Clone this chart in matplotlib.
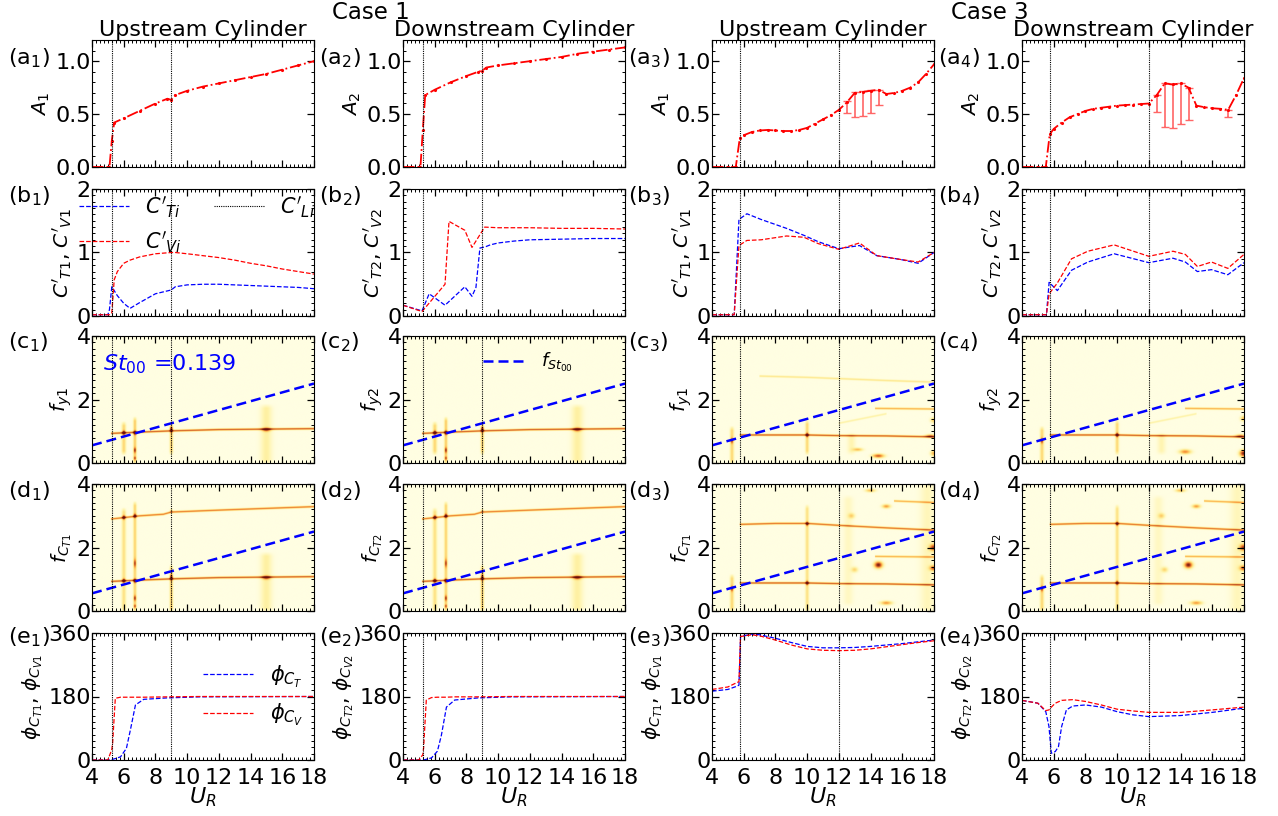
import numpy as np
import matplotlib
matplotlib.use('Agg')
import matplotlib.pyplot as plt
from matplotlib.ticker import MultipleLocator, AutoMinorLocator
from matplotlib.colors import LinearSegmentedColormap

plt.rcParams['font.size'] = 15
plt.rcParams['mathtext.fontset'] = 'dejavusans'

# ---------------- data ----------------
st00 = 0.139
ur_st = np.array([4.0, 18.0])
vl_case1 = [5.25, 9.0]
vl_case3 = [5.75, 12.0]

# row a : amplitudes
ur_a_c1 = [4.0, 4.5, 5.0, 5.1, 5.25, 5.4, 6, 7, 8, 8.75, 9.0, 9.25, 10, 11, 12, 13, 14, 15, 16, 17, 18]
a1_c1 = [0, 0, 0, 0, 0.25, 0.42, 0.46, 0.53, 0.60, 0.645, 0.635, 0.68, 0.72, 0.76, 0.79, 0.82, 0.85, 0.88, 0.92, 0.96, 1.0]
a2_c1 = [0, 0, 0, 0, 0.35, 0.68, 0.73, 0.80, 0.86, 0.90, 0.91, 0.94, 0.96, 0.98, 1.0, 1.02, 1.04, 1.07, 1.09, 1.11, 1.13]

ur_a1_c3 = [4, 4.5, 5, 5.5, 5.75, 6, 6.5, 7, 7.5, 8, 8.5, 9, 9.5, 10, 10.5, 11, 11.5, 12, 12.5, 13, 13.5, 14, 14.5,
            15, 15.5, 16, 16.5, 17, 17.5, 18]
a1_c3 = [0, 0, 0, 0, 0.27, 0.30, 0.33, 0.345, 0.35, 0.345, 0.34, 0.34, 0.35, 0.37, 0.41, 0.45, 0.49, 0.54, 0.61, 0.70,
         0.71, 0.72, 0.73, 0.69, 0.70, 0.72, 0.75, 0.80, 0.88, 0.97]
err_ur_a1_c3 = [12.5, 13, 13.5, 14, 14.5]
err_top_a1_c3 = [0.62, 0.705, 0.715, 0.73, 0.73]
err_low_a1_c3 = [0.51, 0.47, 0.48, 0.51, 0.59]

ur_a2_c3 = [4, 4.5, 5, 5.5, 5.75, 6, 6.5, 7, 7.5, 8, 8.5, 9, 9.5, 10, 10.5, 11, 11.5, 12, 12.5, 13, 13.5, 14, 14.5,
            15, 15.5, 16, 16.5, 17, 17.5, 18]
a2_c3 = [0, 0, 0, 0, 0.31, 0.36, 0.42, 0.47, 0.50, 0.53, 0.55, 0.56, 0.57, 0.58, 0.585, 0.59, 0.595, 0.60, 0.68,
         0.79, 0.78, 0.79, 0.75, 0.58, 0.565, 0.555, 0.55, 0.54, 0.68, 0.84]
err_ur_a2_c3 = [12.5, 13, 13.5, 14, 14.5, 17]
err_top_a2_c3 = [0.68, 0.79, 0.78, 0.79, 0.746, 0.54]
err_low_a2_c3 = [0.52, 0.38, 0.365, 0.41, 0.44, 0.47]

# row b : fluctuating force coefficients
ur_b1 = [4, 4.5, 5.0, 5.1, 5.25, 5.4, 5.6, 6.0, 6.4, 7, 8, 9, 9.25, 10, 11, 12, 13, 14, 15, 16, 17, 18]
ct1_c1 = [0.02, 0.02, 0.02, 0.1, 0.46, 0.40, 0.32, 0.2, 0.12, 0.21, 0.35, 0.41, 0.46, 0.49, 0.50, 0.50, 0.49, 0.48,
          0.47, 0.46, 0.45, 0.43]
cv1_c1 = [0.02, 0.02, 0.02, 0.02, 0.05, 0.57, 0.70, 0.83, 0.88, 0.93, 0.98, 1.0, 1.0, 0.98, 0.95, 0.92, 0.88, 0.83,
          0.79, 0.74, 0.70, 0.66]

ur_b2_t = [4, 5.2, 5.65, 6.65, 7.9, 8.35, 8.6, 8.85, 9.2, 9.5, 10, 11, 12, 14, 16, 18]
ct2_c1 = [0.17, 0.08, 0.35, 0.17, 0.46, 0.31, 0.45, 1.07, 1.09, 1.12, 1.15, 1.18, 1.20, 1.21, 1.22, 1.22]
ur_b2_v = [4, 5.2, 6.65, 6.9, 7.9, 8.35, 9.15, 10, 12, 14, 16, 18]
cv2_c1 = [0.17, 0.07, 0.5, 1.49, 1.35, 1.08, 1.40, 1.39, 1.39, 1.38, 1.38, 1.37]

ur_b3 = [4, 5, 5.4, 5.7, 6.2, 7.1, 8.7, 9.8, 10.7, 12, 13.3, 14.4, 15.9, 17, 18]
ct1_c3 = [0.02, 0.02, 0.02, 1.52, 1.61, 1.52, 1.38, 1.27, 1.17, 1.06, 1.11, 0.95, 0.89, 0.83, 1.0]
cv1_c3 = [0.02, 0.02, 0.02, 1.11, 1.19, 1.20, 1.26, 1.24, 1.14, 1.05, 1.15, 0.95, 0.89, 0.85, 1.0]

ur_b4 = [4, 5, 5.54, 5.71, 6.23, 7.12, 8.15, 9.81, 12.0, 13.52, 14.3, 15.06, 15.95, 16.98, 18]
ct2_c3 = [0.02, 0.02, 0.02, 0.53, 0.40, 0.72, 0.85, 0.98, 0.84, 0.91, 0.85, 0.70, 0.73, 0.65, 0.84]
cv2_c3 = [0.02, 0.02, 0.02, 0.35, 0.52, 0.90, 1.02, 1.12, 0.94, 1.02, 0.97, 0.78, 0.85, 0.75, 0.97]

# row e : phase angles
ur_e12 = [4, 5.0, 5.25, 5.3, 5.47, 5.8, 6.17, 6.42, 6.74, 7.26, 8.74, 10.8, 18]
phit_e1 = [0, 0, 0, 2, 4, 9, 33, 85, 156, 172, 176, 179, 180]
phiv_e1 = [0, 0, 30, 47, 175, 178, 178, 178, 178, 178, 179, 180, 180]
phit_e2 = [0, 0, 0, 0, 2, 6, 25, 70, 150, 170, 176, 179, 180]
phiv_e2 = [0, 0, 15, 35, 170, 177, 178, 178, 178, 179, 179, 180, 180]

ur_e3 = [4, 5, 5.5, 5.7, 5.8, 6.5, 7, 8, 9, 10, 11, 12, 13, 14, 15, 16, 17, 18]
phit_e3 = [195, 200, 208, 212, 350, 357, 355, 345, 333, 322, 318, 318, 319, 322, 326, 330, 335, 340]
phiv_e3 = [200, 207, 218, 222, 350, 355, 352, 340, 326, 315, 311, 310, 311, 315, 321, 327, 333, 338]

ur_e4 = [4, 5, 5.5, 5.7, 5.85, 6.1, 6.3, 6.5, 6.8, 7.2, 8, 9, 10, 11, 12, 14, 16, 18]
phit_e4 = [169, 161, 137, 95, 19, 24, 38, 95, 142, 153, 156, 150, 137, 128, 123, 126, 135, 147]
phiv_e4 = [169, 161, 140, 142, 150, 161, 165, 169, 170, 171, 166, 156, 144, 139, 135, 135, 142, 150]

# rows c, d : spectral peaks  (ridges: U points, f points, strength)
ridge_fund_c1 = ([5.2, 7, 9, 12, 18], [0.93, 0.97, 1.01, 1.05, 1.08], 0.72)
ridge_harm_c1 = ([5.2, 7, 8.5, 9.0, 12, 18], [2.9, 3.0, 3.05, 3.12, 3.18, 3.29], 0.62)
ridge_fund_c3 = ([5.75, 8, 10, 12, 15, 18], [0.88, 0.88, 0.88, 0.86, 0.85, 0.82], 0.72)
ridge_harm_c3 = ([5.75, 8, 10, 12, 15, 18], [2.73, 2.76, 2.76, 2.70, 2.62, 2.55], 0.65)
ridge_faint_c3 = ([7, 10, 12, 15, 18], [2.74, 2.70, 2.66, 2.60, 2.55], 0.22)
ridge_17_c3 = ([14.3, 18], [1.72, 1.70], 0.45)
ridge_rise_c3 = ([12, 15], [1.25, 1.55], 0.15)
ridge_34_c3 = ([15.5, 18], [3.47, 3.42], 0.45)

# streaks: (U, f_low, f_high, strength, half width in U)
streaks_c1 = [(6.0, 0.3, 1.25, 0.3, 0.13), (6.7, 0.0, 1.4, 0.35, 0.1), (9.0, 0.3, 1.2, 0.35, 0.1),
              (15.0, 0.0, 1.8, 0.16, 0.35)]
streaks_d1 = [(6.0, 0.0, 3.2, 0.25, 0.13), (6.7, 0.0, 3.4, 0.32, 0.1), (9.0, 0.0, 1.4, 0.35, 0.1),
              (15.0, 0.0, 1.8, 0.16, 0.35)]
streaks_c3 = [(5.25, 0.0, 1.1, 0.3, 0.12), (10.0, 0.3, 1.3, 0.3, 0.11), (12.8, 0.3, 0.9, 0.12, 0.25)]
streaks_d3 = [(5.25, 0.0, 1.1, 0.3, 0.12), (10.0, 0.0, 3.3, 0.25, 0.11), (12.6, 0.2, 3.6, 0.08, 0.3),
              (17.6, 0.0, 4.0, 0.1, 0.45)]

# blobs: (U, f, strength, width U, width f)
blobs_c1 = [(6.0, 0.95, 0.95, 0.09, 0.06), (6.7, 0.95, 0.9, 0.09, 0.06), (6.7, 0.4, 0.6, 0.07, 0.08),
            (6.7, 0.15, 0.5, 0.07, 0.05), (9.0, 1.05, 0.85, 0.08, 0.08), (15.0, 1.05, 0.6, 0.25, 0.06)]
blobs_d1 = blobs_c1 + [(6.0, 2.95, 0.85, 0.09, 0.06), (6.7, 3.0, 0.8, 0.09, 0.06), (6.7, 1.5, 0.55, 0.07, 0.12),
                       (9.0, 3.15, 0.3, 0.08, 0.06)]
blobs_c3 = [(5.25, 0.7, 0.6, 0.08, 0.08), (10.0, 0.88, 0.85, 0.08, 0.06), (14.5, 0.22, 0.7, 0.35, 0.06),
            (13.2, 0.42, 0.4, 0.3, 0.05), (18.0, 0.3, 0.45, 0.2, 0.08), (18.0, 1.35, 0.35, 0.2, 0.08),
            (17.8, 0.85, 0.5, 0.3, 0.05)]
blobs_c4 = [(5.25, 0.7, 0.6, 0.08, 0.08), (10.0, 0.88, 0.85, 0.08, 0.06), (14.3, 0.35, 0.55, 0.35, 0.07),
            (18.0, 0.3, 0.95, 0.25, 0.1), (18.0, 1.4, 0.4, 0.2, 0.08), (17.8, 0.85, 0.5, 0.3, 0.05)]
blobs_d3 = [(5.25, 0.7, 0.6, 0.08, 0.08), (10.0, 0.88, 0.85, 0.08, 0.06), (10.0, 2.75, 0.8, 0.08, 0.06),
            (14.5, 1.45, 0.95, 0.25, 0.1), (18.0, 2.0, 0.8, 0.25, 0.1), (18.0, 1.35, 0.7, 0.25, 0.08),
            (15.0, 3.3, 0.5, 0.25, 0.06), (14.0, 3.8, 0.4, 0.3, 0.05), (15.0, 0.25, 0.5, 0.35, 0.06),
            (12.8, 3.0, 0.3, 0.2, 0.08), (13.0, 1.3, 0.3, 0.2, 0.08)]

spec_colors = ['#fffee2', '#fff3a8', '#fedb7a', '#fdb450', '#f08434', '#c85a28', '#9a3018', '#6a1008']

# ---------------- spectrogram helper ----------------
ug = np.linspace(4, 18, 561)
fg = np.linspace(0, 4, 401)
UU, FF = np.meshgrid(ug, fg)


def spectrum(ridges, streaks, blobs):
    z = np.zeros_like(UU)
    for us, fs, amp in ridges:
        fc = np.interp(ug, us, fs)
        on = (ug >= us[0]) & (ug <= us[-1])
        z += amp * on[None, :] * np.exp(-((FF - fc[None, :]) / 0.03) ** 2)
    for u0, f0, f1, amp, wu in streaks:
        win = np.clip(np.minimum(FF - f0, f1 - FF) / 0.15 + 0.5, 0, 1)
        z += amp * np.exp(-((UU - u0) / wu) ** 2) * win
    for u0, f0, amp, wu, wf in blobs:
        z += amp * np.exp(-((UU - u0) / wu) ** 2 - ((FF - f0) / wf) ** 2)
    return np.clip(z, 0, 1)


spec = {
    'c1': spectrum([ridge_fund_c1], streaks_c1, blobs_c1),
    'c2': spectrum([ridge_fund_c1], streaks_c1, blobs_c1),
    'd1': spectrum([ridge_fund_c1, ridge_harm_c1], streaks_d1, blobs_d1),
    'd2': spectrum([ridge_fund_c1, ridge_harm_c1], streaks_d1, blobs_d1),
    'c3': spectrum([ridge_fund_c3, ridge_faint_c3, ridge_17_c3, ridge_rise_c3], streaks_c3, blobs_c3),
    'c4': spectrum([ridge_fund_c3, ridge_17_c3, ridge_rise_c3], streaks_c3, blobs_c4),
    'd3': spectrum([ridge_fund_c3, ridge_harm_c3, ridge_17_c3, ridge_34_c3], streaks_d3, blobs_d3),
    'd4': spectrum([ridge_fund_c3, ridge_harm_c3, ridge_17_c3, ridge_34_c3], streaks_d3, blobs_d3),
}
spec_cmap = LinearSegmentedColormap.from_list('spec', spec_colors)

# ---------------- figure ----------------
W, H = 1278, 816
fig = plt.figure(figsize=(W / 100, H / 100), dpi=100)
cols_px = [92, 403, 712, 1022]
rows_px = [40, 189, 336, 484, 633]
w_px, h_px = 222, 127

axes = {}
for r, rl in enumerate('abcde'):
    for c in range(4):
        x, y = cols_px[c], rows_px[r]
        ax = fig.add_axes([x / W, 1 - (y + h_px) / H, w_px / W, h_px / H])
        axes[rl + str(c + 1)] = ax

ylims = {'a': (0, 1.2), 'b': (0, 2), 'c': (0, 4), 'd': (0, 4), 'e': (0, 360)}
ymaj = {'a': 0.5, 'b': 1, 'c': 2, 'd': 2, 'e': 180}
ymin_n = {'a': 5, 'b': 10, 'c': 10, 'd': 10, 'e': 10}
lab_y = {'a': 0.86, 'b': 0.94, 'c': 0.95, 'd': 0.94, 'e': 0.97}

ylabels = {
    'a1': r'$A_1$', 'a2': r'$A_2$', 'a3': r'$A_1$', 'a4': r'$A_2$',
    'b1': r"$C'_{T1}$, $C'_{V1}$", 'b2': r"$C'_{T2}$, $C'_{V2}$",
    'b3': r"$C'_{T1}$, $C'_{V1}$", 'b4': r"$C'_{T2}$, $C'_{V2}$",
    'c1': r'$f_{y1}$', 'c2': r'$f_{y2}$', 'c3': r'$f_{y1}$', 'c4': r'$f_{y2}$',
    'd1': r'$f_{C_{T1}}$', 'd2': r'$f_{C_{T2}}$', 'd3': r'$f_{C_{T1}}$', 'd4': r'$f_{C_{T2}}$',
    'e1': r'$\phi_{C_{T1}}$, $\phi_{C_{V1}}$', 'e2': r'$\phi_{C_{T2}}$, $\phi_{C_{V2}}$',
    'e3': r'$\phi_{C_{T1}}$, $\phi_{C_{V1}}$', 'e4': r'$\phi_{C_{T2}}$, $\phi_{C_{V2}}$',
}

for key, ax in axes.items():
    rl, c = key[0], int(key[1])
    vls = vl_case1 if c <= 2 else vl_case3

    if rl in 'cd':
        ax.imshow(spec[key], extent=[4, 18, 0, 4], origin='lower', aspect='auto',
                  cmap=spec_cmap, vmin=0, vmax=1, interpolation='antialiased')
        ax.plot(ur_st, st00 * ur_st, color='blue', ls='--', lw=1.8, dashes=(4, 2),
                label=r'$f_{St_{00}}$')

    for v in vls:
        ax.axvline(v, color='black', ls=(0, (1, 1)), lw=0.8, zorder=3)

    ax.set_xlim(4, 18)
    ax.set_ylim(*ylims[rl])
    ax.xaxis.set_major_locator(MultipleLocator(2))
    ax.xaxis.set_minor_locator(MultipleLocator(0.25))
    ax.yaxis.set_major_locator(MultipleLocator(ymaj[rl]))
    ax.yaxis.set_minor_locator(AutoMinorLocator(ymin_n[rl]))
    ax.tick_params(which='both', direction='in', top=True, right=True, labelsize=16)
    ax.tick_params(axis='x', pad=6)
    ax.tick_params(axis='y', pad=1)
    ax.tick_params(which='major', length=5, width=0.9)
    ax.tick_params(which='minor', length=2.5, width=0.7)
    if rl != 'e':
        ax.tick_params(labelbottom=False)
    else:
        ax.set_xlabel(r'$U_R$', fontsize=16, labelpad=-2)
    if rl == 'a':
        ax.set_yticks([0, 0.5, 1.0])
        ax.set_yticklabels(['0.0', '0.5', '1.0'])
    ax.set_ylabel(ylabels[key], fontsize=14.5, labelpad=2)
    ax.text(-0.38, lab_y[rl], '(%s$_%d$)' % (rl, c), transform=ax.transAxes,
            ha='left', va='center', fontsize=16)

# row a
for key, u, a in [('a1', ur_a_c1, a1_c1), ('a2', ur_a_c1, a2_c1), ('a3', ur_a1_c3, a1_c3), ('a4', ur_a2_c3, a2_c3)]:
    axes[key].plot(u, a, color='red', ls='-.', lw=1.3, marker='.', ms=2.5)
for key, u, top, low in [('a3', err_ur_a1_c3, err_top_a1_c3, err_low_a1_c3),
                         ('a4', err_ur_a2_c3, err_top_a2_c3, err_low_a2_c3)]:
    top = np.array(top)
    axes[key].errorbar(u, top, yerr=[top - np.array(low), np.zeros_like(top)], fmt='none',
                       ecolor='red', alpha=0.6, capsize=3, elinewidth=1.2)

# row b
axes['b1'].plot(ur_b1, ct1_c1, color='blue', ls='--', lw=0.9, label=r"$C'_{Ti}$")
axes['b1'].plot(ur_b1, cv1_c1, color='red', ls='--', lw=0.9, label=r"$C'_{Vi}$")
axes['b1'].plot([], [], color='black', ls=(0, (1, 1)), lw=0.8, label=r"$C'_{Li}$")
axes['b1'].legend(loc='upper left', bbox_to_anchor=(-0.06, 0.96), ncol=2, frameon=False, fontsize=15,
                  borderpad=0, borderaxespad=0, columnspacing=1.5, handlelength=2.4, labelspacing=0.45)
axes['b2'].plot(ur_b2_t, ct2_c1, color='blue', ls='--', lw=0.9)
axes['b2'].plot(ur_b2_v, cv2_c1, color='red', ls='--', lw=0.9)
axes['b3'].plot(ur_b3, ct1_c3, color='blue', ls='--', lw=0.9)
axes['b3'].plot(ur_b3, cv1_c3, color='red', ls='--', lw=0.9)
axes['b4'].plot(ur_b4, ct2_c3, color='blue', ls='--', lw=0.9)
axes['b4'].plot(ur_b4, cv2_c3, color='red', ls='--', lw=0.9)

# rows c, d extras
axes['c1'].text(4.7, 3.1, r'$St_{00}$ =0.139', color='blue', fontsize=16, va='center')
axes['c2'].legend(loc='center left', bbox_to_anchor=(0.36, 0.79), frameon=False, fontsize=13,
                  borderpad=0, borderaxespad=0, handlelength=2.4)

# row e
axes['e1'].plot(ur_e12, phit_e1, color='blue', ls='--', lw=0.9, label=r'$\phi_{C_T}$')
axes['e1'].plot(ur_e12, phiv_e1, color='red', ls='--', lw=0.9, label=r'$\phi_{C_V}$')
axes['e1'].legend(loc='upper left', bbox_to_anchor=(0.5, 0.76), frameon=False, fontsize=15,
                  borderpad=0, borderaxespad=0, handlelength=2.4, labelspacing=0.6)
axes['e2'].plot(ur_e12, phit_e2, color='blue', ls='--', lw=0.9)
axes['e2'].plot(ur_e12, phiv_e2, color='red', ls='--', lw=0.9)
axes['e3'].plot(ur_e3, phit_e3, color='blue', ls='--', lw=0.9)
axes['e3'].plot(ur_e3, phiv_e3, color='red', ls='--', lw=0.9)
axes['e4'].plot(ur_e4, phit_e4, color='blue', ls='--', lw=0.9)
axes['e4'].plot(ur_e4, phiv_e4, color='red', ls='--', lw=0.9)

# titles
for c, t in zip(range(1, 5), ['Upstream Cylinder', 'Downstream Cylinder'] * 2):
    axes['a%d' % c].set_title(t, fontsize=16, pad=3)
fig.text(371 / W, 1 - 1 / H, 'Case 1', ha='center', va='top', fontsize=16.5)
fig.text(990 / W, 1 - 1 / H, 'Case 3', ha='center', va='top', fontsize=16.5)

fig.savefig('out.png', dpi=100)
